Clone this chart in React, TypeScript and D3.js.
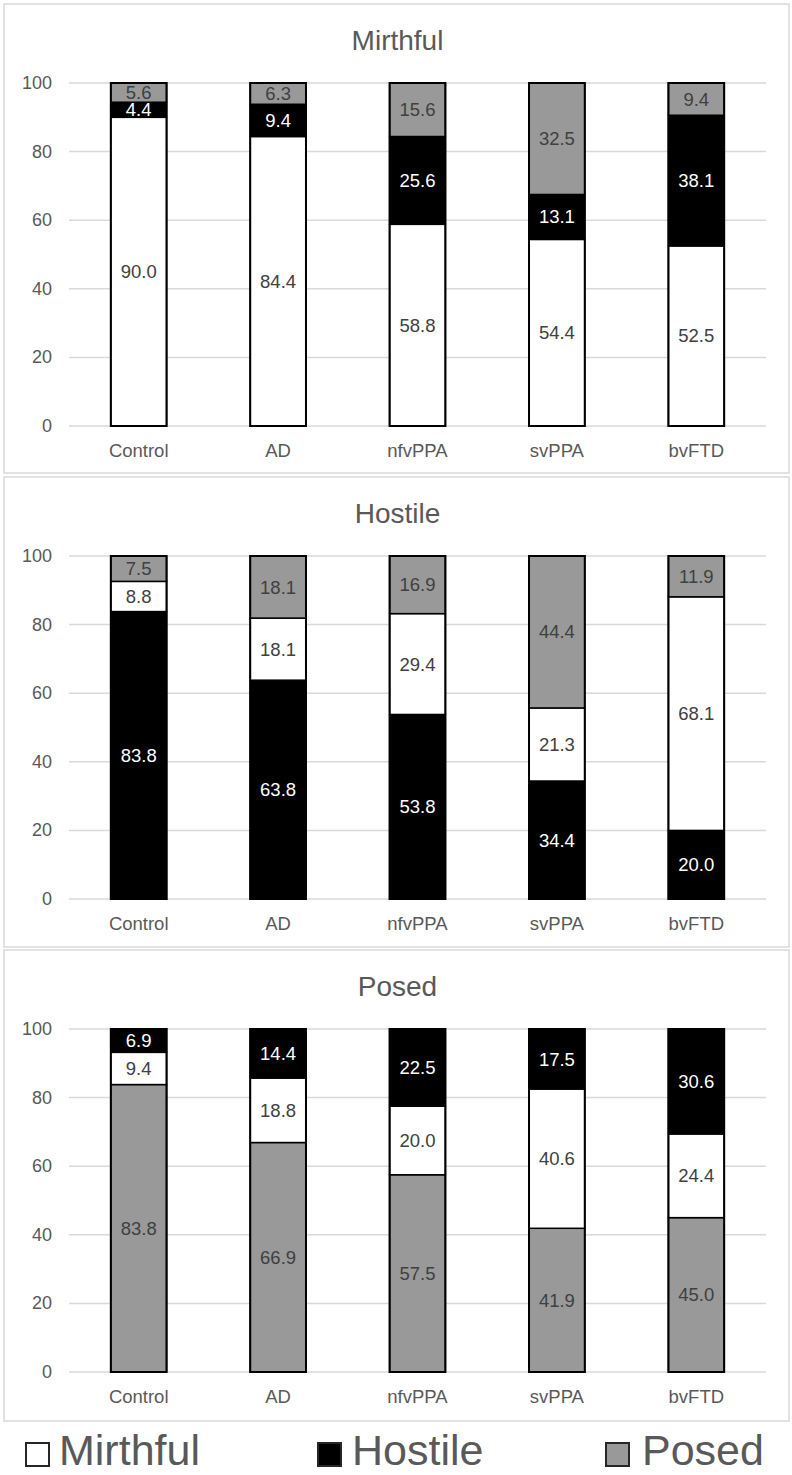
import React from "react";
import * as d3 from "d3";

const categories = ["Control", "AD", "nfvPPA", "svPPA", "bvFTD"];
const panelTitles = ["Mirthful", "Hostile", "Posed"];
const yTicks = [0, 20, 40, 60, 80, 100];

// Responses to Mirthful stimuli
const mirthfulStimMirthful = [90.0, 84.4, 58.8, 54.4, 52.5];
const mirthfulStimHostile = [4.4, 9.4, 25.6, 13.1, 38.1];
const mirthfulStimPosed = [5.6, 6.3, 15.6, 32.5, 9.4];

// Responses to Hostile stimuli
const hostileStimHostile = [83.8, 63.8, 53.8, 34.4, 20.0];
const hostileStimMirthful = [8.8, 18.1, 29.4, 21.3, 68.1];
const hostileStimPosed = [7.5, 18.1, 16.9, 44.4, 11.9];

// Responses to Posed stimuli
const posedStimPosed = [83.8, 66.9, 57.5, 41.9, 45.0];
const posedStimMirthful = [9.4, 18.8, 20.0, 40.6, 24.4];
const posedStimHostile = [6.9, 14.4, 22.5, 17.5, 30.6];

const legendLabels = ["Mirthful", "Hostile", "Posed"];

type Series = { key: string; values: number[] };

const panels: Series[][] = [
  [
    { key: "Mirthful", values: mirthfulStimMirthful },
    { key: "Hostile", values: mirthfulStimHostile },
    { key: "Posed", values: mirthfulStimPosed },
  ],
  [
    { key: "Hostile", values: hostileStimHostile },
    { key: "Mirthful", values: hostileStimMirthful },
    { key: "Posed", values: hostileStimPosed },
  ],
  [
    { key: "Posed", values: posedStimPosed },
    { key: "Mirthful", values: posedStimMirthful },
    { key: "Hostile", values: posedStimHostile },
  ],
];

const fillOf: Record<string, string> = {
  Mirthful: "#ffffff",
  Hostile: "#000000",
  Posed: "#999999",
};
const labelColorOf: Record<string, string> = {
  Mirthful: "#404040",
  Hostile: "#ffffff",
  Posed: "#404040",
};

const W = 792;
const H = 1475;
const FONT = "'Liberation Sans', Arial, Helvetica, sans-serif";
const panelTops = [4, 477, 950];
const panelHeights = [469, 470, 471];

function Panel({ idx }: { idx: number }) {
  const top = panelTops[idx];
  const x = d3
    .scaleBand<string>()
    .domain(categories)
    .range([69, 766])
    .paddingInner(0.6)
    .paddingOuter(0.3);
  const y = d3.scaleLinear().domain([0, 100]).range([top + 422, top + 79]);
  const series = panels[idx];

  return (
    <g>
      <rect
        x={4}
        y={top}
        width={785}
        height={panelHeights[idx]}
        fill="#ffffff"
        stroke="#d9d9d9"
        strokeWidth={1.5}
      />
      <text
        x={(69 + 766) / 2 - 20}
        y={top + 36}
        textAnchor="middle"
        dominantBaseline="central"
        fontSize={28}
        fill="#595959"
        fontFamily={FONT}
      >
        {panelTitles[idx]}
      </text>
      {yTicks.map((t) => (
        <g key={t}>
          <line x1={69} x2={766} y1={y(t)} y2={y(t)} stroke="#d9d9d9" strokeWidth={1.5} />
          <text
            x={52}
            y={y(t)}
            textAnchor="end"
            dominantBaseline="central"
            fontSize={18}
            fill="#595959"
            fontFamily={FONT}
          >
            {t}
          </text>
        </g>
      ))}
      {categories.map((c, ci) => {
        const bx = x(c) as number;
        const bw = x.bandwidth();
        let cum = 0;
        const segs = series.map((s) => {
          const v = s.values[ci];
          const y0 = cum;
          const y1 = Math.min(100, cum + v);
          cum += v;
          return { key: s.key, v, y0, y1 };
        });
        return (
          <g key={c}>
            {segs.map((sg) => (
              <rect
                key={sg.key}
                x={bx}
                y={y(sg.y1)}
                width={bw}
                height={y(sg.y0) - y(sg.y1)}
                fill={fillOf[sg.key]}
                stroke="#000"
                strokeWidth={1.5}
              />
            ))}
            <rect
              x={bx}
              y={y(100)}
              width={bw}
              height={y(0) - y(100)}
              fill="none"
              stroke="#000"
              strokeWidth={2}
            />
            {segs.map((sg) => (
              <text
                key={"l" + sg.key}
                x={bx + bw / 2}
                y={(y(sg.y0) + y(sg.y1)) / 2}
                textAnchor="middle"
                dominantBaseline="central"
                fontSize={18.5}
                fill={labelColorOf[sg.key]}
                fontFamily={FONT}
              >
                {sg.v.toFixed(1)}
              </text>
            ))}
            <text
              x={bx + bw / 2}
              y={top + 446}
              textAnchor="middle"
              dominantBaseline="central"
              fontSize={18.5}
              fill="#595959"
              fontFamily={FONT}
            >
              {c}
            </text>
          </g>
        );
      })}
    </g>
  );
}

export default function App() {
  const legendBoxX = [26, 318, 606];
  const legendTextX = [59, 352, 642];
  return (
    <svg
      width={W}
      height={H}
      style={{ position: "absolute", left: 0, top: 0, background: "#fff" }}
    >
      <rect x={0} y={0} width={W} height={H} fill="#fff" />
      {panelTitles.map((_, i) => (
        <Panel key={i} idx={i} />
      ))}
      {legendLabels.map((l, i) => (
        <g key={l}>
          <rect
            x={legendBoxX[i]}
            y={1443}
            width={23}
            height={23}
            fill={fillOf[l]}
            stroke="#262626"
            strokeWidth={2}
          />
          <text
            x={legendTextX[i]}
            y={1465}
            fontSize={43}
            fill="#595959"
            fontFamily={FONT}
          >
            {l}
          </text>
        </g>
      ))}
    </svg>
  );
}
